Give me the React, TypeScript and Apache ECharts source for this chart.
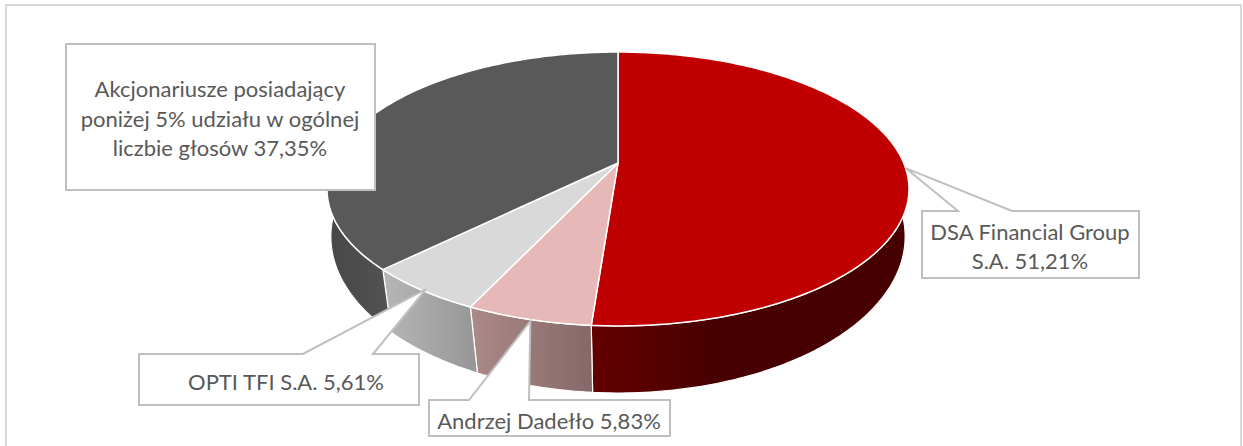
import React, { useEffect, useRef } from "react";
import * as echarts from "echarts";

const categories = [
  "DSA Financial Group S.A.",
  "Andrzej Dadełło",
  "OPTI TFI S.A.",
  "Akcjonariusze posiadający poniżej 5% udziału w ogólnej liczbie głosów",
];
const shares = [51.21, 5.83, 5.61, 37.35];
const labelTexts = [
  "DSA Financial Group\nS.A. 51,21%",
  "Andrzej Dadełło 5,83%",
  "OPTI TFI S.A. 5,61%",
  "Akcjonariusze posiadający\nponiżej 5% udziału w ogólnej\nliczbie głosów 37,35%",
];

const topColors = ["#C00000", "#E6B8B7", "#D9D9D9", "#595959"];
const wallStops = [
  [["#640000", 0], ["#480000", 0.4], ["#470000", 1]],
  [["#ab8a88", 0], ["#856868", 1]],
  [["#b6b6b6", 0], ["#969696", 1]],
  [["#474747", 0], ["#535353", 1]],
];
const wallLimit = [[60, 360], [0, 360], [0, 360], [0, 300]];

// perspective model of the disc: top plane and lower plane of the extrusion
const HUB_X = 618;
const TOP = { y: 163, rx: 285.7, ry: 132, k: 0.1898 };
const LOW = { y: 213, rx: 283.9, ry: 153, k: 0.15 };

const project = (deg: number, lower: boolean) => {
  const t = (deg * Math.PI) / 180;
  const u = Math.sin(t), v = -Math.cos(t);
  const p = lower ? LOW : TOP;
  const w = 1 / (1 - p.k * v);
  return [HUB_X + p.rx * u * w, p.y + p.ry * v * w];
};

const total = shares.reduce((a, b) => a + b, 0);
const startAngle = (i: number) =>
  (shares.slice(0, i).reduce((a, b) => a + b, 0) / total) * 360;
const endAngle = (i: number) => startAngle(i) + (shares[i] / total) * 360;

const arc = (a: number, b: number, lower: boolean) => {
  const pts: number[][] = [];
  const n = Math.max(2, Math.ceil(Math.abs(b - a)));
  for (let j = 0; j <= n; j++) pts.push(project(a + ((b - a) * j) / n, lower));
  return pts;
};

// label boxes and the offset of each pointer tip from the slice's mid-angle edge point
const boxes = [
  { l: 922, t: 211, r: 1139, b: 278, p: [958, 1012], dx: 0, dy: 0, tx: 1030, ty: 246 },
  { l: 429, t: 400, r: 670, b: 436, p: [469, 529], dx: 2, dy: 2, tx: 549, ty: 420 },
  { l: 139, t: 354, r: 419, b: 405, p: [303, 373], dx: 4, dy: -1, tx: 286, ty: 381 },
  { l: 66, t: 44, r: 375, b: 190, p: null, dx: 0, dy: 0, tx: 220, ty: 118 },
];

const FONT = "Lato";

function wallItem(params: any) {
  const i = params.dataIndex;
  const a = Math.max(startAngle(i), wallLimit[i][0]);
  const b = Math.min(endAngle(i), wallLimit[i][1]);
  const pts = [...arc(a, b, false), ...arc(b, a, true)];
  return {
    type: "polygon",
    shape: { points: pts },
    style: {
      fill: {
        type: "linear",
        x: 0, y: 0, x2: 1, y2: 0,
        colorStops: wallStops[i].map(([c, o]) => ({ color: c, offset: o })),
      },
      stroke: "#ffffff",
      lineWidth: 1.2,
    },
  };
}

function topItem(params: any) {
  const i = params.dataIndex;
  const pts = [[HUB_X, TOP.y], ...arc(startAngle(i), endAngle(i), false)];
  return {
    type: "polygon",
    shape: { points: pts },
    style: { fill: topColors[i], stroke: "#ffffff", lineWidth: 1.5, lineJoin: "round" },
  };
}

function labelItem(params: any) {
  const i = params.dataIndex;
  const box = boxes[i];
  const mid = (startAngle(i) + endAngle(i)) / 2;
  const edge = project(mid, false);
  const tip = [edge[0] + box.dx, edge[1] + box.dy];
  const pts: number[][] = [[box.l, box.t]];
  if (box.p) {
    pts.push([box.p[0], box.t], tip, [box.p[1], box.t]);
  }
  pts.push([box.r, box.t], [box.r, box.b], [box.l, box.b]);
  return {
    type: "group",
    children: [
      {
        type: "polygon",
        shape: { points: pts },
        style: { fill: "#ffffff", stroke: "#bfbfbf", lineWidth: 2 },
      },
      {
        type: "text",
        style: {
          text: labelTexts[i],
          x: box.tx,
          y: box.ty,
          align: "center",
          verticalAlign: "middle",
          fill: "#595959",
          fontFamily: FONT,
          fontSize: 22,
          lineHeight: 29.5,
        },
      },
    ],
  };
}

export default function App() {
  const ref = useRef<HTMLDivElement>(null);
  useEffect(() => {
    document.body.style.margin = "0";
    const chart = echarts.init(ref.current!, null, { renderer: "svg" });
    const data = shares.map((v, i) => ({ name: categories[i], value: v }));
    chart.setOption({
      animation: false,
      backgroundColor: "#ffffff",
      graphic: [
        {
          type: "rect",
          z: 0,
          shape: { x: 6, y: 5, width: 1235, height: 460 },
          style: { fill: "#ffffff", stroke: "#d9d9d9", lineWidth: 2 },
        },
      ],
      series: [
        { type: "custom", coordinateSystem: "none", z: 2, silent: true, data, renderItem: wallItem },
        { type: "custom", coordinateSystem: "none", z: 3, silent: true, data, renderItem: topItem },
        { type: "custom", coordinateSystem: "none", z: 4, silent: true, data, renderItem: labelItem },
      ],
    });
    return () => chart.dispose();
  }, []);
  return <div ref={ref} style={{ position: "absolute", left: 0, top: 0, width: 1243, height: 446 }} />;
}
